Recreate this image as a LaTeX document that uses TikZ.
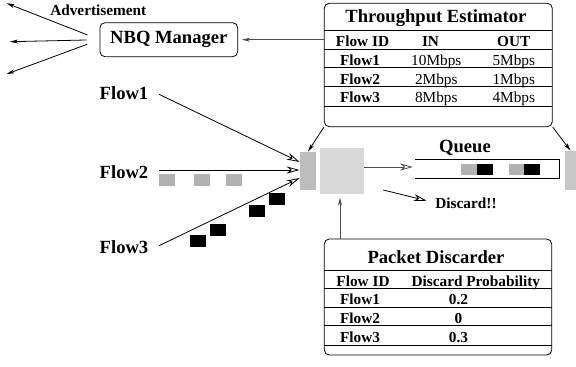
\documentclass[tikz,border=0pt]{standalone}
\usepackage{fontspec}
\setmainfont{Liberation Serif}
\usetikzlibrary{arrows.meta, positioning, calc}
\definecolor{gatecol}{gray}{0.74}
\definecolor{dropcol}{gray}{0.85}
\definecolor{pktgray}{gray}{0.70}
\definecolor{edgecol}{gray}{0.78}
\definecolor{wirecol}{gray}{0.30}

\begin{document}
\begin{tikzpicture}[x=1pt, y=-1pt, line width=0.8pt,
   big/.style={font=\fontsize{18.6}{20}\selectfont\bfseries},
   small/.style={font=\fontsize{15.3}{17}\selectfont},
   smallb/.style={font=\fontsize{15.3}{17}\selectfont\bfseries},
   panel/.style={draw, rounded corners=5pt, inner sep=0pt},
   flowarr/.style={-{Stealth[open, length=13pt, width=7pt, inset=4pt]}},
   thinarr/.style={-{Stealth[length=8pt, width=4pt]}},
   pkt/.style={minimum width=16pt, minimum height=11.5pt, inner sep=0pt}]
  \useasboundingbox (0,0) rectangle (576,367);

  % manager and advertisements
  \node[panel, big, minimum width=137.7pt, minimum height=34pt] (nbq) at (168.8,39.7) {NBQ Manager};
  \node[smallb, anchor=base] (adv) at (98.3,15) {Advertisement};
  \coordinate (a1) at (6.7,3.3);
  \coordinate (a2) at (10,41.7);
  \coordinate (a3) at (6.7,74);
  \foreach \t in {a1,a2,a3}
    \draw[thinarr, shorten <=13pt] (nbq.west) -- (\t);

  % throughput estimator
  \node[panel, minimum width=228pt, minimum height=123.4pt] (est) at (438.3,65) {};
  \node[big, anchor=base] (estT) at (436,22.9) {Throughput Estimator};
  \node[smallb, anchor=base] (estH1) at (362.5,46.7) {Flow ID};
  \node[smallb, anchor=base] (estH2) at (430.5,46.7) {IN};
  \node[smallb, anchor=base] (estH3) at (513.7,46.7) {OUT};
  \foreach \fl/\vin/\vout/\yy in {1/10Mbps/5Mbps/65, 2/2Mbps/1Mbps/84, 3/8Mbps/4Mbps/102.7} {
    \node[smallb, anchor=base] (estF\fl) at (360,\yy) {Flow\fl};
    \node[small, anchor=base] (estI\fl) at (436.3,\yy) {\vin};
    \node[small, anchor=base] (estO\fl) at (513.8,\yy) {\vout};
  }
  \foreach \yy in {30.7,49.3,67.7,86.7,106}
    \draw (324.3,\yy) -- (552.3,\yy);
  \draw[thinarr, wirecol] (est.west |- nbq.east) -- ([xshift=4pt]nbq.east);

  % flows
  \node[big, anchor=base west] (flow1) at (96,99.3) {Flow1};
  \node[big, anchor=base west] (flow2) at (96,178.7) {Flow2};
  \node[big, anchor=base west] (flow3) at (96,253.3) {Flow3};
  \coordinate (f1s) at (159,94.3);
  \coordinate (f2s) at (159,170);
  \coordinate (f3s) at (159,245.7);

  % gate, dropper, queue
  \node[fill=gatecol, minimum width=16pt, minimum height=38pt, inner sep=0pt] (gate) at (308,171) {};
  \node[fill=dropcol, minimum width=44pt, minimum height=46pt, inner sep=0pt] (drop) at (342,171) {};
  \node[fill=edgecol, minimum width=11pt, minimum height=39pt, inner sep=0pt] (outgate) at (570.5,170.5) {};

  \draw[flowarr] (f1s) -- ([yshift=9pt]gate.west);
  \draw[flowarr] (f2s) -- ([yshift=1pt]gate.west);
  \draw[flowarr] (f3s) -- ([yshift=-7pt]gate.west);

  \foreach \px/\py/\pc [count=\i] in {167/180.2/pktgray, 202/180.2/pktgray, 234/180.2/pktgray,
      198/240.8/black, 218/229.8/black, 257/210.8/black, 277/199.2/black,
      469/169.5/pktgray, 484.8/169.5/black, 517.3/169.5/pktgray, 532.3/169.5/black}
    \node[pkt, fill=\pc] (pk\i) at (\px,\py) {};

  \draw (415,159) -- (559,159) -- (559,178.3) -- (415,178.3);
  \node[big, anchor=base] (queue) at (465,152.3) {Queue};
  \coordinate (qin) at (413,167);
  \draw[flowarr, wirecol] (drop.east |- qin) -- (qin);

  \draw[thinarr] (est.south west) -- (gate.north);
  \draw[thinarr] (est.south east) -- (outgate.north);

  % discard
  \node[smallb, anchor=base west] (discard) at (431.7,208.3) {Discard!!};
  \coordinate (dfrom) at (383.3,190);
  \coordinate (dto) at (426.7,200.7);
  \draw[flowarr] (dfrom) -- (dto);

  % packet discarder
  \node[panel, minimum width=227.4pt, minimum height=116pt] (pd) at (438,297) {};
  \node[big, anchor=base] (pdT) at (436,263.3) {Packet Discarder};
  \node[smallb, anchor=base] (pdH1) at (363,286) {Flow ID};
  \node[smallb, anchor=base] (pdH2) at (475.8,286) {Discard Probability};
  \foreach \fl/\pr/\yy in {1/0.2/304.3, 2/0/323.3, 3/0.3/342.3} {
    \node[smallb, anchor=base] (pdF\fl) at (360,\yy) {Flow\fl};
    \node[smallb, anchor=base] (pdP\fl) at (458.5,\yy) {\pr};
  }
  \foreach \yy in {270,288.3,307.3,325.7,345}
    \draw (324.3,\yy) -- (551.7,\yy);
  \coordinate (up) at (340,197.7);
  \draw[thinarr, wirecol] (pd.north -| up) -- (up);
\end{tikzpicture}
\end{document}
